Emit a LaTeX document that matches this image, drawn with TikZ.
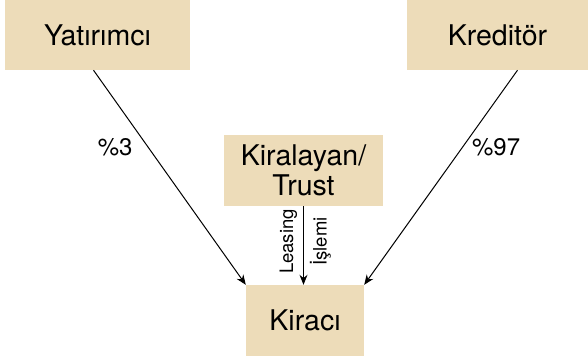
\documentclass[tikz,border=0pt]{standalone}
\usepackage{fontspec}
\setmainfont{TeX Gyre Heros}
\usetikzlibrary{arrows.meta}
\definecolor{boxtan}{RGB}{237,220,185}
\tikzset{
  party/.style={fill=boxtan, inner sep=0pt, align=center, font=\fontsize{28.5}{30}\selectfont},
  flow/.style={-{Stealth[length=10pt,width=8pt]}, line width=1pt},
  share/.style={font=\fontsize{24}{26}\selectfont},
  deal/.style={font=\fontsize{18.5}{20}\selectfont, rotate=90}
}
\begin{document}
\begin{tikzpicture}[x=1pt,y=-1pt]
  \useasboundingbox (0,0) rectangle (588,360);
  \node[party, minimum width=185pt, minimum height=70pt] (yatirimci) at (97.5,35) {Yatırımcı};
  \node[party, minimum width=181pt, minimum height=70pt] (kreditor) at (497.5,35) {Kreditör};
  \node[party, minimum width=159pt, minimum height=71pt] (kiralayan) at (303.5,170.5) {Kiralayan/\\Trust};
  \node[party, minimum width=118pt, minimum height=71pt] (kiraci) at (305,320.5) {Kiracı};
  \begin{scope}[flow]
    \draw ([xshift=-4pt]yatirimci.south) to node[share, pos=0.36, left=12pt] {\%3} (kiraci.north west);
    \draw ([xshift=20pt]kreditor.south) to node[share, pos=0.36, right=6pt] {\%97} (kiraci.north east);
    \draw (kiralayan.south) to node[deal, pos=0.45, above=2.5pt] {Leasing} node[deal, pos=0.45, below=2.5pt] {İşlemi} (kiralayan.south |- kiraci.north);
  \end{scope}
\end{tikzpicture}
\end{document}
